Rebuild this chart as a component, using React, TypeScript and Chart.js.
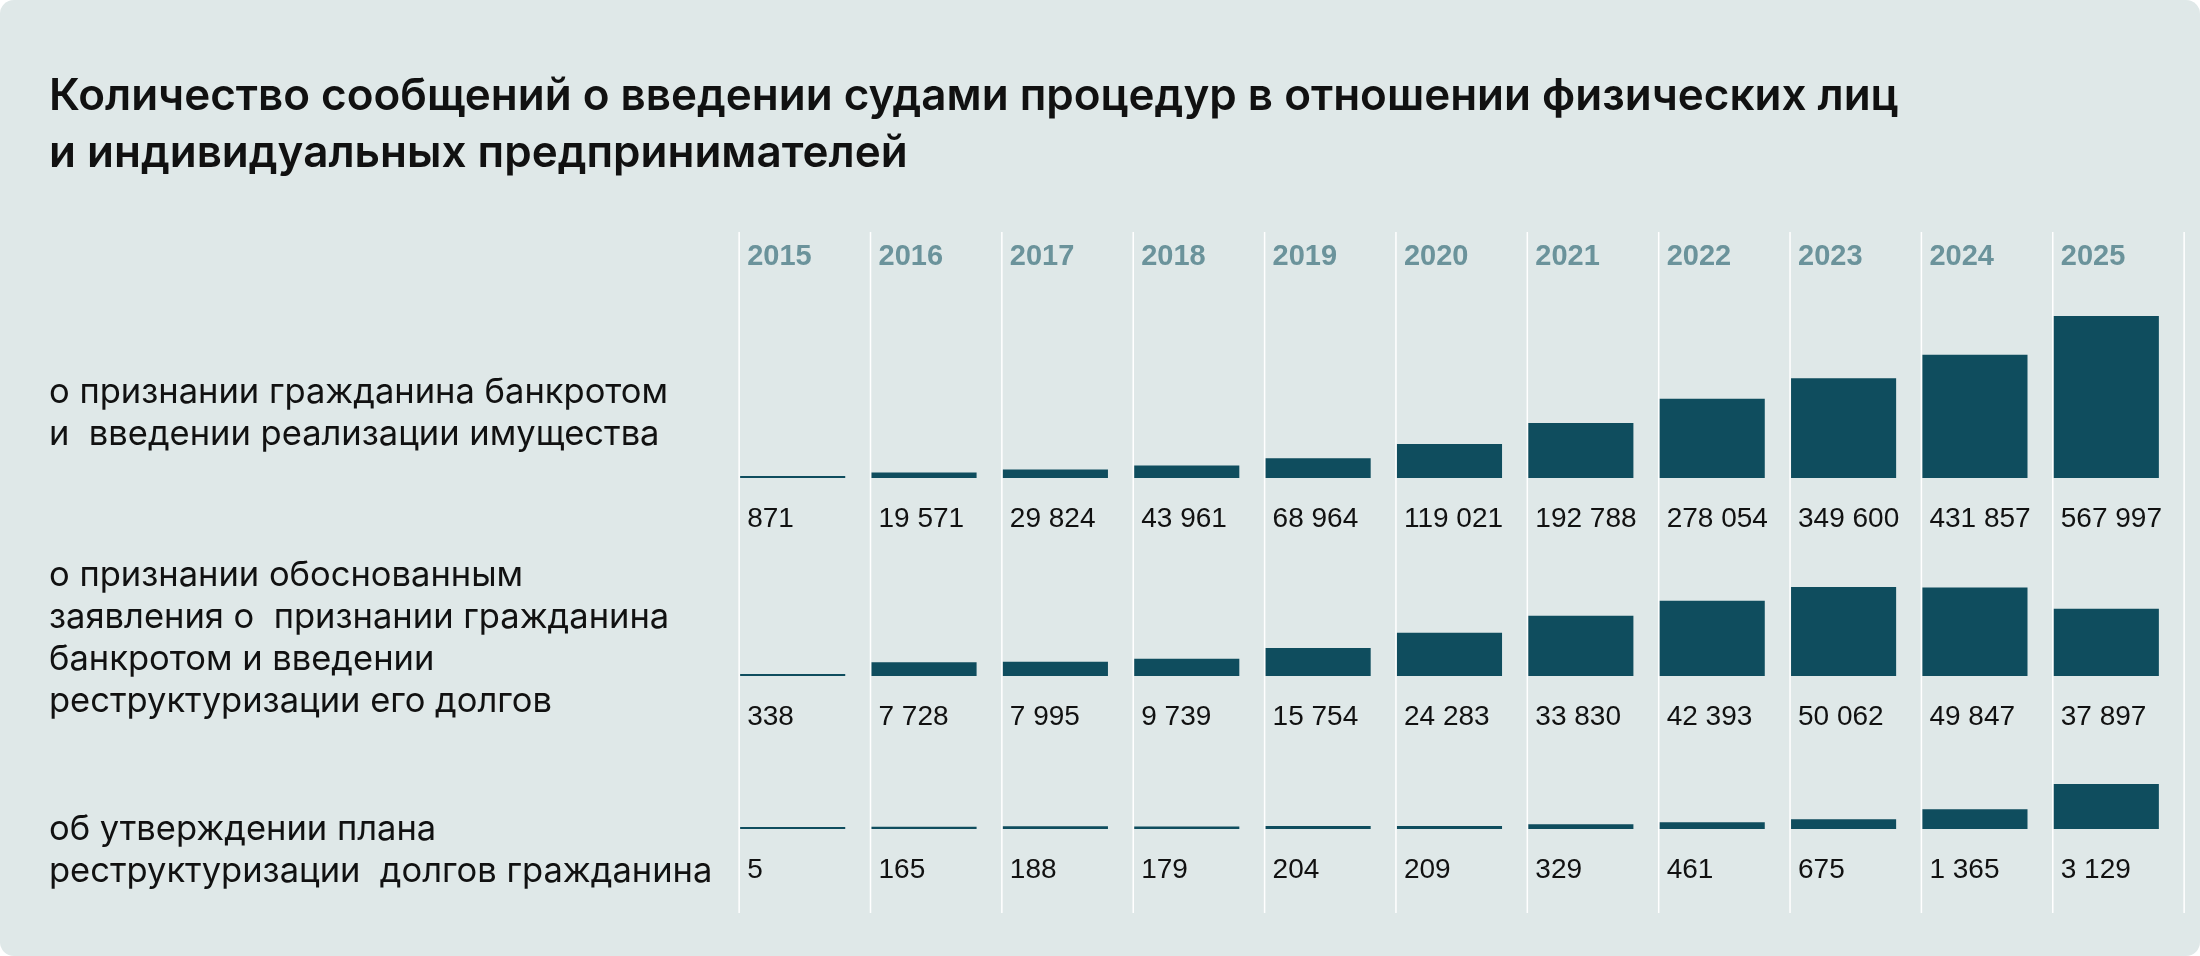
import React, { useEffect, useRef } from "react";
import { Chart, registerables } from "chart.js";

Chart.register(...registerables);

// Years shown as columns
const years = ["2015", "2016", "2017", "2018", "2019", "2020", "2021", "2022", "2023", "2024", "2025"];

// Court notices: recognition of a citizen as bankrupt and sale of property
const realizationCounts = [871, 19571, 29824, 43961, 68964, 119021, 192788, 278054, 349600, 431857, 567997];
// Court notices: claim recognised as justified and debt restructuring introduced
const restructuringCounts = [338, 7728, 7995, 9739, 15754, 24283, 33830, 42393, 50062, 49847, 37897];
// Court notices: approval of a citizen's debt restructuring plan
const planApprovalCounts = [5, 165, 188, 179, 204, 209, 329, 461, 675, 1365, 3129];

const titleLines = [
  "Количество сообщений о введении судами процедур в отношении физических лиц",
  "и индивидуальных предпринимателей",
];

const rowLabels = [
  ["о признании гражданина банкротом", "и  введении реализации имущества"],
  ["о признании обоснованным", "заявления о  признании гражданина", "банкротом и введении", "реструктуризации его долгов"],
  ["об утверждении плана", "реструктуризации  долгов гражданина"],
];

const rowSeries = [realizationCounts, restructuringCounts, planApprovalCounts];

// ---- layout & style ----
const W = 2200;
const H = 956;
const PLOT = { left: 727, right: 2172, top: 232, bottom: 913 };
const ROW_BASE = [478, 676, 829]; // zero line of each row
const ROW_PEAK = [162, 89, 45]; // height of the tallest bar in each row
const ROW_LABEL_TOP = [370, 553, 807];
const BAR_FRACTION = 0.8;

const CARD_BG = "#DFE8E8";
const BAR_COLOR = "#0F4D5E";
const YEAR_COLOR = "#6B939B";
const TEXT_COLOR = "#111111";

const fmt = (v: number) => String(v).replace(/\B(?=(\d{3})+(?!\d))/g, " ");

const rowAxis = (r: number) => {
  const peak = Math.max(...rowSeries[r]);
  const unitsPerPx = peak / ROW_PEAK[r];
  return {
    type: "linear" as const,
    display: false,
    min: -(PLOT.bottom - ROW_BASE[r]) * unitsPerPx,
    max: (ROW_BASE[r] - PLOT.top) * unitsPerPx,
  };
};

const columnDecor = {
  id: "columnDecor",
  beforeDatasetsDraw(chart: any) {
    const { ctx } = chart;
    const xs = chart.scales.x;
    const n = years.length;
    const cw = (xs.right - xs.left) / n;
    ctx.save();
    ctx.strokeStyle = "#FFFFFF";
    ctx.lineWidth = 1.5;
    for (let i = 0; i <= n; i++) {
      const x = xs.getPixelForValue(i) - (BAR_FRACTION * cw) / 2 - 1;
      ctx.beginPath();
      ctx.moveTo(x, chart.chartArea.top);
      ctx.lineTo(x, chart.chartArea.bottom);
      ctx.stroke();
    }
    ctx.restore();
  },
  afterDatasetsDraw(chart: any) {
    const { ctx } = chart;
    const xs = chart.scales.x;
    const n = years.length;
    const cw = (xs.right - xs.left) / n;
    ctx.save();
    ctx.textAlign = "left";
    ctx.textBaseline = "middle";
    // year headers
    ctx.font = 'bold 29px "Liberation Sans", Arial, sans-serif';
    ctx.fillStyle = YEAR_COLOR;
    years.forEach((y, i) => {
      const x = xs.getPixelForValue(i) - (BAR_FRACTION * cw) / 2 + 7;
      ctx.fillText(y, x, chart.chartArea.top + 25);
    });
    // value labels under each bar
    ctx.font = '28px "Liberation Sans", Arial, sans-serif';
    ctx.fillStyle = TEXT_COLOR;
    chart.data.datasets.forEach((ds: any, di: number) => {
      const meta = chart.getDatasetMeta(di);
      const ys = chart.scales[ds.yAxisID];
      const base = ys.getPixelForValue(0);
      meta.data.forEach((bar: any, i: number) => {
        const x = bar.x - bar.width / 2 + 7;
        ctx.fillText(fmt(ds.data[i]), x, base + 41);
      });
    });
    ctx.restore();
  },
};

export default function App() {
  const canvasRef = useRef<HTMLCanvasElement | null>(null);

  useEffect(() => {
    if (!canvasRef.current) return;
    const chart = new Chart(canvasRef.current, {
      type: "bar",
      data: {
        labels: years,
        datasets: rowSeries.map((data, r) => ({
          label: rowLabels[r].join(" "),
          data,
          yAxisID: `y${r + 1}`,
          backgroundColor: BAR_COLOR,
          borderWidth: 0,
          grouped: false,
          barPercentage: BAR_FRACTION,
          categoryPercentage: 1,
          minBarLength: 2,
        })),
      },
      options: {
        responsive: false,
        animation: false,
        devicePixelRatio: 1,
        layout: {
          padding: {
            left: PLOT.left,
            right: W - PLOT.right,
            top: PLOT.top,
            bottom: H - PLOT.bottom,
          },
        },
        plugins: {
          legend: { display: false },
          title: { display: false },
          tooltip: { enabled: false },
        },
        scales: {
          x: { type: "category", display: false, offset: true },
          y1: rowAxis(0),
          y2: rowAxis(1),
          y3: rowAxis(2),
        },
      },
      plugins: [columnDecor],
    });
    return () => chart.destroy();
  }, []);

  return (
    <div
      style={{
        position: "fixed",
        left: 0,
        top: 0,
        width: W,
        height: H,
        background: "#FFFFFF",
        overflow: "hidden",
      }}
    >
      <div
        style={{
          position: "absolute",
          inset: 0,
          background: CARD_BG,
          borderRadius: 14,
        }}
      />
      <canvas
        ref={canvasRef}
        width={W}
        height={H}
        style={{ position: "absolute", left: 0, top: 0, width: W, height: H }}
      />
      <div
        style={{
          position: "absolute",
          left: 49,
          top: 66,
          fontFamily: "Inter, 'Noto Sans', sans-serif",
          fontWeight: 600,
          fontSize: 44,
          lineHeight: "57px",
          color: TEXT_COLOR,
          whiteSpace: "pre",
        }}
      >
        {titleLines.map((t, i) => (
          <div key={i}>{t}</div>
        ))}
      </div>
      {rowLabels.map((lines, r) => (
        <div
          key={r}
          style={{
            position: "absolute",
            left: 49,
            top: ROW_LABEL_TOP[r],
            fontFamily: "Inter, 'Noto Sans', sans-serif",
            fontWeight: 400,
            fontSize: 34.5,
            lineHeight: "42px",
            color: TEXT_COLOR,
            whiteSpace: "pre",
          }}
        >
          {lines.map((t, i) => (
            <div key={i}>{t}</div>
          ))}
        </div>
      ))}
    </div>
  );
}
